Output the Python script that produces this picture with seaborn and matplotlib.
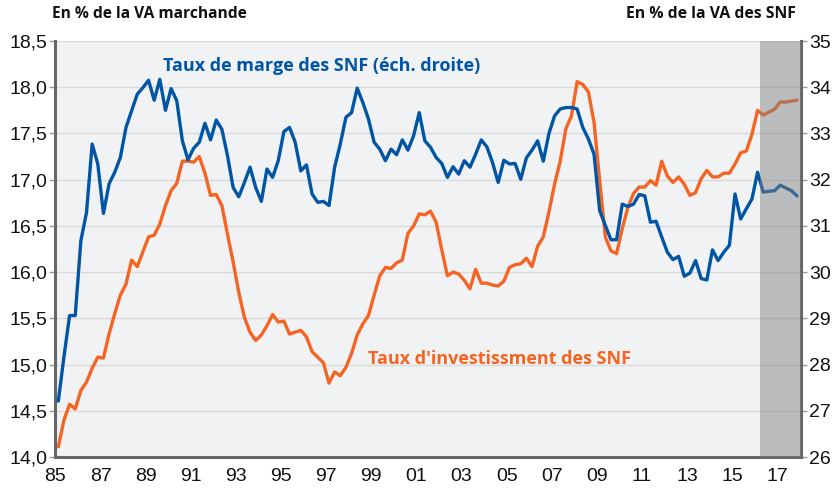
import numpy as np
import pandas as pd
import matplotlib
matplotlib.use("Agg")
import matplotlib.pyplot as plt
import seaborn as sns
from matplotlib.ticker import FuncFormatter

# ---------------- data (quarterly, 1985Q1 .. 2017Q4) ----------------
first_quarter = 1985.125
n_quarters = 132

# Taux de marge des SNF (right axis, % of VA des SNF)
marge = [
    27.21, 28.17, 29.06, 29.06, 30.68, 31.29, 32.77, 32.34, 31.27, 31.91, 32.16, 32.48,
    33.13, 33.49, 33.85, 33.99, 34.15, 33.72, 34.17, 33.50, 33.97, 33.71, 32.84, 32.43,
    32.68, 32.81, 33.22, 32.86, 33.29, 33.09, 32.52, 31.83, 31.63, 31.94, 32.27, 31.83,
    31.53, 32.23, 32.05, 32.41, 33.04, 33.13, 32.81, 32.19,
    32.32, 31.69, 31.51, 31.53, 31.44, 32.27, 32.77, 33.35, 33.45, 33.98, 33.67, 33.31,
    32.81, 32.66, 32.41, 32.66, 32.54, 32.86, 32.64, 32.95, 33.45, 32.84, 32.70, 32.48,
    32.35, 32.05, 32.28, 32.12, 32.41, 32.27, 32.55, 32.86, 32.71, 32.37, 31.94, 32.42,
    32.34, 32.35, 32.01, 32.47, 32.64, 32.84, 32.40, 33.00,
    33.38, 33.53, 33.56, 33.56, 33.53, 33.13, 32.88, 32.55, 31.33, 31.01, 30.70, 30.70,
    31.47, 31.42, 31.47, 31.68, 31.65, 31.08, 31.10, 30.76, 30.43, 30.27, 30.34, 29.91,
    29.98, 30.25, 29.86, 29.83, 30.48, 30.25, 30.43, 30.58, 31.69, 31.15, 31.37, 31.58,
    32.16, 31.73, 31.75, 31.76, 31.88, 31.82, 31.76, 31.65,
]

# Taux d'investissement des SNF (left axis, % of VA marchande)
invest = [
    14.11, 14.40, 14.57, 14.52, 14.72, 14.81, 14.96, 15.08, 15.07, 15.33, 15.55, 15.75,
    15.87, 16.13, 16.06, 16.22, 16.38, 16.40, 16.52, 16.72, 16.88, 16.96, 17.20, 17.20,
    17.19, 17.25, 17.07, 16.83, 16.84, 16.72, 16.41, 16.11, 15.78, 15.51, 15.35, 15.26,
    15.32, 15.42, 15.54, 15.46, 15.47, 15.33, 15.35, 15.37,
    15.30, 15.14, 15.08, 15.02, 14.80, 14.92, 14.88, 14.97, 15.12, 15.32, 15.44, 15.53,
    15.75, 15.96, 16.05, 16.04, 16.10, 16.13, 16.42, 16.50, 16.63, 16.62, 16.66, 16.54,
    16.24, 15.96, 16.00, 15.98, 15.91, 15.82, 16.03, 15.88, 15.88, 15.86, 15.85, 15.90,
    16.05, 16.08, 16.09, 16.15, 16.06, 16.28, 16.38, 16.65,
    16.95, 17.20, 17.55, 17.69, 18.06, 18.03, 17.95, 17.62, 16.99, 16.38, 16.23, 16.20,
    16.47, 16.70, 16.85, 16.92, 16.92, 16.99, 16.94, 17.20, 17.04, 16.97, 17.03, 16.95,
    16.83, 16.86, 17.01, 17.10, 17.03, 17.03, 17.07, 17.07, 17.17, 17.29, 17.31, 17.49,
    17.75, 17.70, 17.73, 17.76, 17.84, 17.84, 17.85, 17.86,
]

xtick_years = list(range(1985, 2018, 2))
xtick_labels = ["85", "87", "89", "91", "93", "95", "97", "99", "01", "03",
                "05", "07", "09", "11", "13", "15", "17"]
left_ticks = [14.0, 14.5, 15.0, 15.5, 16.0, 16.5, 17.0, 17.5, 18.0, 18.5]
right_ticks = [26, 27, 28, 29, 30, 31, 32, 33, 34, 35]
forecast_start = 2016.25

dates = first_quarter + 0.25 * np.arange(n_quarters)
df = pd.DataFrame({"date": dates, "marge": marge, "invest": invest})

# ---------------- style ----------------
sns.set_style("white")
plt.rcParams["font.family"] = ["Liberation Sans", "DejaVu Sans"]

BLUE = "#0055a5"
ORANGE = "#f46423"
SPINE = "#666666"
TICKC = "#9a9a9a"
BOLDFONT = ["Open Sans", "DejaVu Sans"]

fig = plt.figure(figsize=(8.37, 4.91), dpi=100)
ax = fig.add_axes([55.5 / 837, 34 / 491, (801 - 55.5) / 837, (457 - 41) / 491])
ax.set_facecolor("#f1f2f4")
ax2 = ax.twinx()

sns.lineplot(data=df, x="date", y="invest", ax=ax, color=ORANGE, lw=2.4)
sns.lineplot(data=df, x="date", y="marge", ax=ax2, color=BLUE, lw=2.4)

ax.set_xlim(1985, 2018.05)
ax.set_ylim(14, 18.5)
ax2.set_ylim(26, 35)

ax2.axvspan(forecast_start, 2018.1, color="#808080", alpha=0.47, lw=0, zorder=5)

ax.set_yticks(left_ticks)
ax.yaxis.set_major_formatter(FuncFormatter(lambda v, p: f"{v:.1f}".replace(".", ",")))
ax2.set_yticks(right_ticks)
ax2.yaxis.set_major_formatter(FuncFormatter(lambda v, p: f"{int(v)}"))
ax.set_xticks(xtick_years)
ax.set_xticklabels(xtick_labels)

ax.yaxis.grid(True, color="#d9d9d9", lw=1.0)
ax.xaxis.grid(False)
ax.set_axisbelow(True)

for a in (ax, ax2):
    a.set_xlabel("")
    a.set_ylabel("")
    for s in a.spines.values():
        s.set_visible(False)
ax.spines["left"].set_visible(True)
ax.spines["bottom"].set_visible(True)
ax2.spines["right"].set_visible(True)
for s in (ax.spines["left"], ax.spines["bottom"], ax2.spines["right"]):
    s.set_color(SPINE)
    s.set_linewidth(2.2)

ax.tick_params(axis="y", direction="out", length=4, width=1, color=TICKC,
               labelsize=14, pad=2, labelcolor="#111111")
ax2.tick_params(axis="y", direction="out", length=4, width=1, color=TICKC,
                labelsize=14, pad=2, labelcolor="#111111")
ax.tick_params(axis="x", direction="out", length=5, width=1, color=TICKC,
               labelsize=14, pad=3, labelcolor="#111111")

fig.text(52 / 837, 1 - 14 / 491, "En % de la VA marchande", ha="left", va="center",
         fontsize=11.2, fontweight="bold", family=BOLDFONT, color="#111111")
fig.text(796 / 837, 1 - 14 / 491, "En % de la VA des SNF", ha="right", va="center",
         fontsize=11.3, fontweight="bold", family=BOLDFONT, color="#111111")

ax2.text(1989.77, 34.46, "Taux de marge des SNF (éch. droite)", ha="left", va="center",
         fontsize=13, fontweight="bold", color=BLUE, family=BOLDFONT)
ax.text(1998.84, 15.06, "Taux d'investissment des SNF", ha="left", va="center",
        fontsize=13, fontweight="bold", color=ORANGE, family=BOLDFONT)

fig.savefig("out.png", dpi=100)
